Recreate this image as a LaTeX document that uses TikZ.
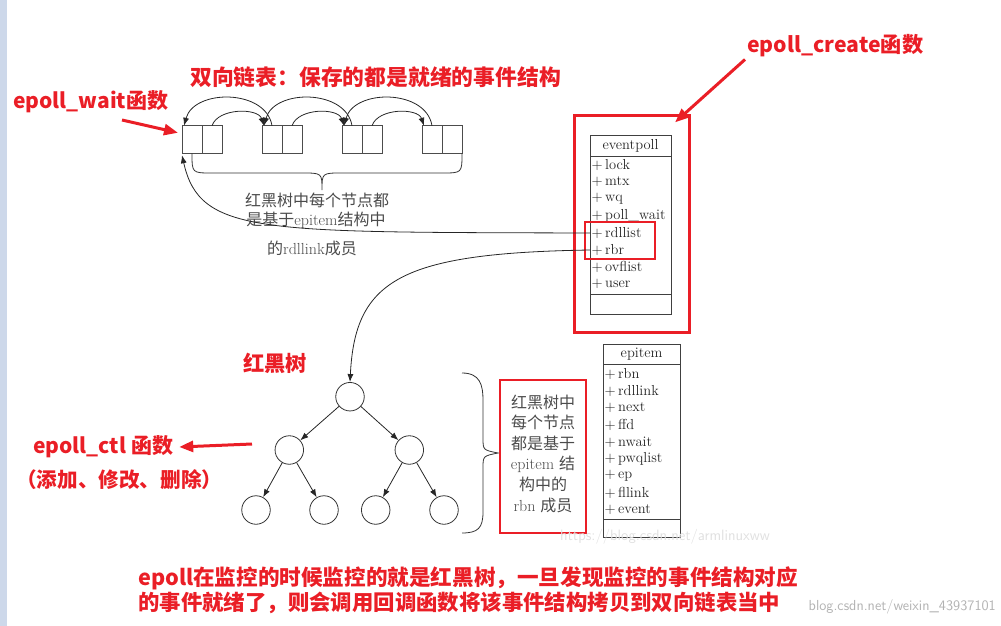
\documentclass[tikz,border=0pt]{standalone}
\usepackage{fontspec}
\newfontfamily\cjk{Noto Sans CJK SC}
\usetikzlibrary{arrows.meta,positioning}
\definecolor{mark}{RGB}{234,30,38}
\definecolor{txtgray}{RGB}{75,75,75}
\definecolor{strip}{RGB}{205,216,234}
\tikzset{
  redtxt/.style={text=mark,font=\cjk\bfseries\fontsize{21}{24}\selectfont,inner sep=0pt},
  redarrow/.style={draw=mark,line width=3pt,-{Triangle[length=14pt,width=11pt]}},
  redbox/.style={draw=mark,line width=2.8pt,inner sep=0pt},
  cell/.style={draw=black!70,line width=0.9pt,minimum width=20pt,minimum height=27.5pt,inner sep=0pt,outer sep=0pt},
  linkarrow/.style={draw=black!85,line width=0.8pt,-{Latex[length=8pt,width=6pt]}},
  classbox/.style={draw=black!75,line width=0.8pt,inner sep=0pt,outer sep=0pt},
  field/.style={anchor=west,inner sep=0pt,font=\fontsize{14.5}{16}\selectfont,text=black!85},
  knot/.style={circle,draw=black!80,line width=0.8pt,minimum size=28.5pt,inner sep=0pt},
  graytxt/.style={text=txtgray,inner sep=0pt,font=\fontsize{16}{20}\selectfont}
}
\begin{document}
\begin{tikzpicture}[x=1pt,y=-1pt]
    \useasboundingbox (0,0) rectangle (1001,626);
    % Decoration
    \fill[strip] (0,0) rectangle (7,626);
    % Titles
    \node[redtxt,anchor=west] (wait) at (13,102) {epoll\_wait函数};
    \node[redtxt,anchor=west,font=\cjk\bfseries\fontsize{21.8}{24}\selectfont] (listtitle) at (190,77) {双向链表：保存的都是就绪的事件结构};
    \node[redtxt,anchor=west,font=\cjk\bfseries\fontsize{21.2}{24}\selectfont] (create) at (747,46) {epoll\_create函数};
    \node[redtxt,anchor=west,font=\cjk\bfseries\fontsize{21.3}{24}\selectfont] (rbtitle) at (243,363) {红黑树};
    \node[redtxt,anchor=west] (ctl) at (33,447) {epoll\_ctl 函数};
    \node[redtxt,anchor=west,font=\cjk\bfseries\fontsize{20.6}{24}\selectfont] (ctlops) at (16,480) {（添加、修改、删除）};
    % Ready list
    \foreach \i in {0,1,2,3}{
      \node[cell] (L\i) at (192+80*\i,139.5) {};
      \node[cell] (R\i) at (212+80*\i,139.5) {};
    }
    \foreach \i/\j in {0/1,1/2,2/3}{
      \draw[linkarrow] (R\i.north) .. controls +(6,-18) and +(-6,-18) .. ([xshift=2pt]L\j.north west);
      \draw[linkarrow] (L\j.north) .. controls +(-6,-37) and +(10,-37) .. ([xshift=2pt]L\i.north west);
    }
    % Brace under the list
    \draw[black!80,line width=0.8pt] (L0.south) .. controls (192,173) .. (212,173) -- (302,173)
      .. controls (322,173) .. (322,190) .. controls (322,173) .. (342,173) -- (442,173)
      .. controls (462,173) .. (R3.south east);
    \node[graytxt] (note1) at (317,200) {\cjk 红黑树中每个节点都};
    \node[graytxt] (note2) at (316,220) {{\cjk 是基于}epitem{\cjk 结构中}};
    \node[graytxt] (note3) at (312,248) {{\cjk 的}rdllink{\cjk 成员}};
    % eventpoll
    \node[redbox,minimum width=115.6pt,minimum height=216.4pt,anchor=north west] (epbox) at (572.7,114.3) {};
    \node[classbox,minimum width=81pt,minimum height=179pt,anchor=north west] (ep) at (590,135) {};
    \draw[classbox] (590,156) -- (671,156);
    \draw[classbox] (590,294) -- (671,294);
    \node[field,anchor=center] (eptitle) at (630.5,145.5) {eventpoll};
    \foreach \f [count=\k from 0] in {lock,mtx,wq,{poll\_wait},rdllist,rbr,ovflist,user}
      \node[field] (ep\k) at (591.5,165+17*\k) {+\,\f};
    \draw[redbox] (585,222) rectangle (655,259);
    \draw[redarrow] ([shift={(-2pt,-2pt)}]create.south west) -- ([shift={(-16pt,-8pt)}]epbox.north east);
    % Links out of eventpoll
    \draw[linkarrow] (ep.west |- ep4) .. controls (260,232) and (200,235) .. ([yshift=-2pt]L0.south west);
    % Red-black tree
    \node[knot] (root) at (350,396.7) {};
    \node[knot] (a1) at (289.3,450) {};
    \node[knot] (a2) at (409.3,450) {};
    \node[knot] (b1) at (256,510) {};
    \node[knot] (b2) at (324,510) {};
    \node[knot] (b3) at (375.7,510) {};
    \node[knot] (b4) at (444,510) {};
    \draw[linkarrow] (ep.west |- ep5) .. controls (400,253) and (355,280) .. (root.north);
    \draw[linkarrow] (root) -- (a1);
    \draw[linkarrow] (root) -- (a2);
    \draw[linkarrow] (a1) -- (b1);
    \draw[linkarrow] (a1) -- (b2);
    \draw[linkarrow] (a2) -- (b3);
    \draw[linkarrow] (a2) -- (b4);
    % Brace beside the tree
    \draw[black!80,line width=0.8pt] (462,373) .. controls (480,373) and (483,385) .. (483,400) -- (483,438)
      .. controls (483,450) .. (498,453) .. controls (483,456) .. (483,468) -- (483,512)
      .. controls (483,528) and (478,533) .. (462,533);
    \node[redbox,minimum width=86pt,minimum height=153pt] (rbnbox) at (543,456.5) {};
    \node[graytxt,align=center,font=\fontsize{16}{20.6}\selectfont] (rbnnote) at (543,453.5)
      {{\cjk 红黑树中}\\{\cjk 每个节点}\\{\cjk 都是基于}\\epitem {\cjk 结}\\{\cjk 构中的}\\rbn {\cjk 成员}};
    % epitem
    \node[classbox,minimum width=76.7pt,minimum height=192.3pt,anchor=north west] (epi) at (603.3,344.7) {};
    \draw[classbox] (603.3,364) -- (680,364);
    \draw[classbox] (603.3,519) -- (680,519);
    \node[field,anchor=center] (epititle) at (641.6,354.5) {epitem};
    \foreach \f [count=\k from 0] in {rbn,rdllink,next,ffd,nwait,pwqlist,ep,fllink,event}
      \node[field] (epi\k) at (604.5,374+17*\k) {+\,\f};
    % Pointers of the notes
    \coordinate (waitA) at (122,120);
    \draw[redarrow] (waitA) -- ([shift={(-4pt,-7pt)}]L0.north west);
    \coordinate (ctlA) at (252,444);
    \draw[redarrow] (ctlA) -- ([xshift=6pt]ctl.east);
    % Watermarks
    \node[text=black!12,inner sep=0pt,font=\sffamily\fontsize{15}{16}\selectfont] (wm1) at (665,537) {https://blog.csdn.net/armlinuxww};
    \node[text=black!30,inner sep=0pt,font=\sffamily\fontsize{14.5}{15}\selectfont,anchor=east] (wm2) at (996,607) {blog.csdn.net/weixin\_43937101};
    % Bottom remark
    \node[redtxt,anchor=west,font=\cjk\bfseries\fontsize{21.6}{24}\selectfont] (sum1) at (138,578) {epoll在监控的时候监控的就是红黑树，一旦发现监控的事件结构对应};
    \node[redtxt,anchor=west,font=\cjk\bfseries\fontsize{21.4}{24}\selectfont] (sum2) at (138,603) {的事件就绪了，则会调用回调函数将该事件结构拷贝到双向链表当中};
\end{tikzpicture}
\end{document}
